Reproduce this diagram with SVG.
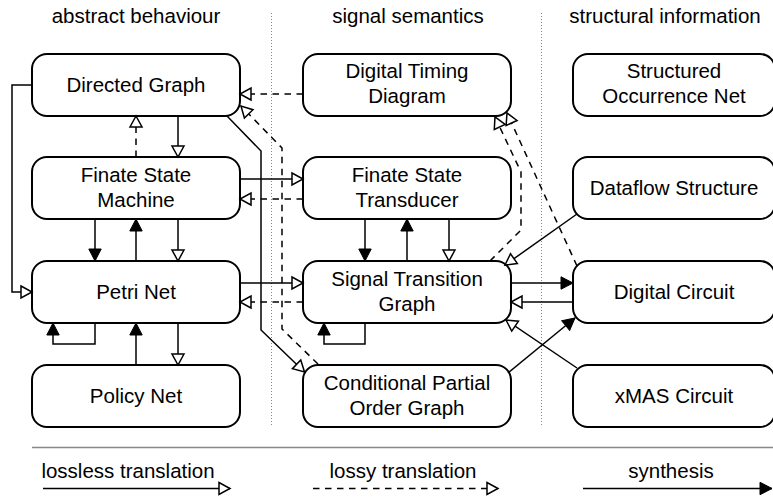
<svg xmlns="http://www.w3.org/2000/svg" width="773" height="500" viewBox="0 0 773 500">
<style>
.box{fill:#fff;stroke:#000;stroke-width:2}
.t{font-family:"Liberation Sans",Arial,Helvetica,sans-serif;font-size:20.5px;text-anchor:middle;fill:#000}
.c{fill:none;stroke:#000;stroke-width:1.5}
.d{stroke-dasharray:6.5 5.5}
.h{marker-end:url(#hollow)}
.f{marker-end:url(#filled)}
.sep{fill:none;stroke:#888;stroke-width:1;stroke-dasharray:1 2}
</style>
<defs>
<marker id="hollow" markerUnits="userSpaceOnUse" markerWidth="16" markerHeight="16" viewBox="0 0 16 16" refX="13" refY="8" orient="auto">
<path d="M2,2 L13,8 L2,14 Z" fill="#fff" stroke="#000" stroke-width="1.5"/>
</marker>
<marker id="filled" markerUnits="userSpaceOnUse" markerWidth="16" markerHeight="16" viewBox="0 0 16 16" refX="13.5" refY="8" orient="auto">
<path d="M1.5,1.8 L13.5,8 L1.5,14.2 Z" fill="#000" stroke="#000" stroke-width="1"/>
</marker>
</defs>
<rect width="773" height="500" fill="#fff"/>

<g id="headers">
<text class="t" x="136" y="23">abstract behaviour</text>
<text class="t" x="408" y="23">signal semantics</text>
<text class="t" x="665" y="23">structural information</text>
<path class="sep" d="M271.5,13 V425 M541.5,13 V425"/>
</g>

<g id="directed-graph"><rect class="box" x="32" y="54" width="208" height="62" rx="15"/><text class="t" x="136" y="92">Directed Graph</text></g>
<g id="fsm"><rect class="box" x="32" y="157" width="208" height="62" rx="15"/><text class="t" x="136" y="182">Finate State</text><text class="t" x="136" y="206.5">Machine</text></g>
<g id="petri-net"><rect class="box" x="32" y="261" width="208" height="62" rx="15"/><text class="t" x="136" y="299">Petri Net</text></g>
<g id="policy-net"><rect class="box" x="32" y="365" width="208" height="62" rx="15"/><text class="t" x="136" y="403">Policy Net</text></g>

<g id="dtd"><rect class="box" x="303" y="54" width="208" height="62" rx="15"/><text class="t" x="407" y="78">Digital Timing</text><text class="t" x="407" y="102.5">Diagram</text></g>
<g id="fst"><rect class="box" x="303" y="157" width="208" height="62" rx="15"/><text class="t" x="407" y="182">Finate State</text><text class="t" x="407" y="206.5">Transducer</text></g>
<g id="stg"><rect class="box" x="303" y="261" width="208" height="62" rx="15"/><text class="t" x="407" y="286">Signal Transition</text><text class="t" x="407" y="310.5">Graph</text></g>
<g id="cpog"><rect class="box" x="303" y="365" width="208" height="62" rx="15"/><text class="t" x="407" y="390">Conditional Partial</text><text class="t" x="407" y="414.5">Order Graph</text></g>

<g id="son"><rect class="box" x="573" y="54" width="202" height="62" rx="15"/><text class="t" x="674" y="78">Structured</text><text class="t" x="674" y="102.5">Occurrence Net</text></g>
<g id="dataflow"><rect class="box" x="573" y="157" width="202" height="62" rx="15"/><text class="t" x="674" y="195">Dataflow Structure</text></g>
<g id="digital-circuit"><rect class="box" x="573" y="261" width="202" height="62" rx="15"/><text class="t" x="674" y="299">Digital Circuit</text></g>
<g id="xmas"><rect class="box" x="573" y="365" width="202" height="62" rx="15"/><text class="t" x="674" y="403">xMAS Circuit</text></g>

<g id="connectors">
<path class="c h" d="M32,85 H12 V292 H32"/>
<path class="c h" d="M178,116 V157"/>
<path class="c d h" d="M136,157 V116"/>
<path class="c f" d="M95,219 V261"/>
<path class="c f" d="M136,261 V219"/>
<path class="c h" d="M178,219 V261"/>
<path class="c f" d="M95,323 V344 H53 V323"/>
<path class="c f" d="M136,365 V323"/>
<path class="c h" d="M178,323 V365"/>
<path class="c d h" d="M303,94 H240"/>
<path class="c h" d="M240,179 H303"/>
<path class="c d h" d="M303,199 H240"/>
<path class="c h" d="M240,283 H303"/>
<path class="c d h" d="M303,302 H240"/>
<path class="c h" d="M227,116 L261,151 V330 L304.5,372"/>
<path class="c d h" d="M318,364 L282,329 V148 L241,106"/>
<path class="c f" d="M365,219 V261"/>
<path class="c f" d="M407,261 V219"/>
<path class="c h" d="M449,219 V261"/>
<path class="c f" d="M365,323 V344 H324 V323"/>
<path class="c d h" d="M490,261 L521,230 V172 L495,117"/>
<path class="c d h" d="M577,266 L507,113"/>
<path class="c h" d="M577,214 L505,265"/>
<path class="c f" d="M511,283 H573"/>
<path class="c h" d="M573,302 H511"/>
<path class="c h" d="M577,368 L506,320"/>
<path class="c f" d="M508,373 L575,318"/>
</g>

<g id="legend">
<path d="M32,447.5 H773" fill="none" stroke="#888" stroke-width="1.5"/>
<text class="t" x="128" y="478">lossless translation</text>
<text class="t" x="403" y="478">lossy translation</text>
<text class="t" x="671" y="478">synthesis</text>
<path class="c h" d="M43,488.5 H230"/>
<path class="c d h" d="M313,488.5 H498"/>
<path class="c f" d="M583,488.5 H772"/>
</g>
</svg>
